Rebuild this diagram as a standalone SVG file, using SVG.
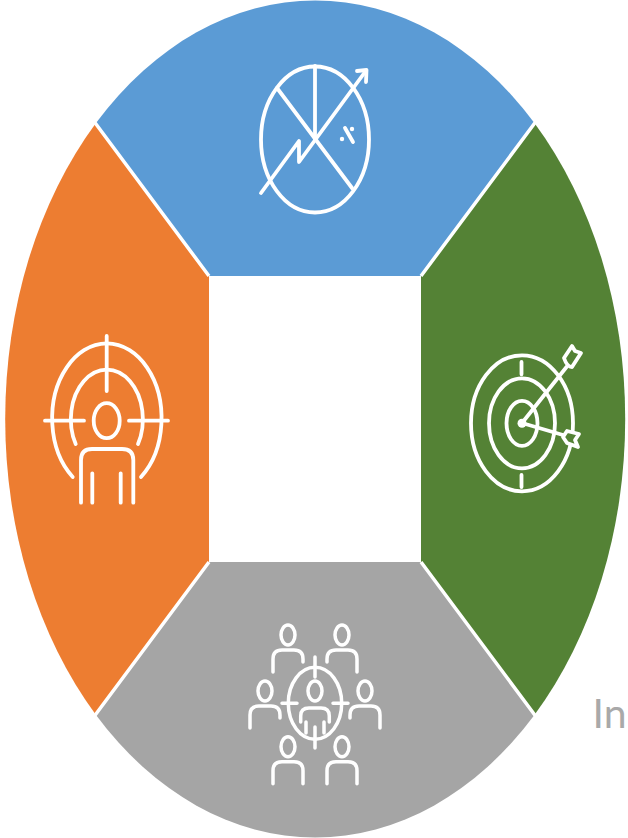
<svg xmlns="http://www.w3.org/2000/svg" width="628" height="838" viewBox="0 0 628 838">
<style>
.div{stroke:#fff;stroke-width:3.5;fill:none}
.ic{fill:none;stroke:#fff;stroke-width:3.8;stroke-linecap:round;stroke-linejoin:round}
.ic2{fill:none;stroke:#fff;stroke-width:3.5;stroke-linecap:round;stroke-linejoin:round}
</style>
<defs>
<clipPath id="oval"><ellipse cx="315.200" cy="419" rx="310" ry="418.500"/></clipPath>
<g id="person" class="ic2"><ellipse cx="0" cy="0" rx="7" ry="10"/><path d="M-15,37V24Q-15,15 -6,15H6Q15,15 15,24V37"/></g>
<g id="personL" class="ic2"><ellipse cx="0" cy="0" rx="7" ry="10"/><path d="M-15,37V24Q-15,15 -6,15H6Q15,15 15,24V27"/></g>
<g id="personR" class="ic2"><ellipse cx="0" cy="0" rx="7" ry="10"/><path d="M-15,27V24Q-15,15 -6,15H6Q15,15 15,24V37"/></g>
</defs>
<g id="node-blue">
<path clip-path="url(#oval)" fill="#5b9bd5" d="M80,103L209,276H421L550,103V-5H80Z"/>
<g class="ic">
<ellipse cx="315" cy="139.500" rx="54" ry="73"/>
<path d="M315,66V139"/>
<path d="M277,88L352,188"/>
<path d="M261,193L299,141L299,162L365,72"/>
<path d="M357,71L366.500,70L366,82"/>
<path d="M345,128L353,142"/>
</g>
<circle cx="352" cy="129" r="2.200" fill="#fff"/>
<circle cx="342" cy="139" r="2.200" fill="#fff"/>
</g>
<g id="node-orange">
<path clip-path="url(#oval)" fill="#ed7d31" d="M80,103L209,276V562L80,735H-5V103Z"/>
<g class="ic">
<path d="M106.700,336V391M45,420.700H84M129,420.700H168"/>
<path d="M72.700,477A54.700,75 0 1 1 141,477"/>
<path d="M75.700,444A36,49.500 0 1 1 138,444"/>
<ellipse cx="106.700" cy="420.700" rx="13" ry="17.500"/>
<path d="M81,502.700V460Q81,449 92,449H122Q133.300,449 133.300,460V502.700"/>
<path d="M92.300,473.300V502.700M120.700,473.300V502.700"/>
</g>
</g>
<g id="node-green">
<path clip-path="url(#oval)" fill="#548235" d="M550,103L421,276V562L550,735H635V103Z"/>
<g class="ic">
<ellipse cx="522" cy="423.300" rx="51" ry="68"/>
<ellipse cx="522" cy="423.300" rx="33" ry="45"/>
<ellipse cx="522" cy="423.300" rx="15.500" ry="22.500"/>
<path d="M521.500,362V374.300M521.500,475V487"/>
<path d="M522,423L566.700,366.700M522,423L563,435"/>
<path fill="#548235" d="M564,358L572,346L575,351L581,353L572,367Q567,367 564,358Z"/>
<path fill="#548235" d="M563,437L567,431L579,434L575,440L578,447L567,443Z"/>
</g>
<circle cx="522" cy="423.300" r="4.500" fill="#fff"/>
</g>
<g id="node-gray">
<path clip-path="url(#oval)" fill="#a5a5a5" d="M209,562H421L550,735V845H80V735Z"/>
<use href="#personL" x="288" y="635"/>
<use href="#personR" x="342" y="635"/>
<use href="#personL" x="265" y="691"/>
<use href="#personR" x="365" y="691"/>
<use href="#person" x="288" y="746.700"/>
<use href="#person" x="342" y="746.700"/>
<g class="ic2">
<ellipse cx="315" cy="703.300" rx="26.700" ry="36"/>
<path d="M315,657V677M315,727V748M282,703.300H297M333,703.300H348"/>
<ellipse cx="315" cy="691" rx="7" ry="10"/>
<path d="M300.700,722V716Q300.700,708 309,708H321Q329.300,708 329.300,716V722"/>
<path d="M306,722V733M324,722V733"/>
</g>
</g>
<g id="connectors">
<path class="div" d="M209,276L90,116M421,276L540,116M209,562L90,722M421,562L540,722"/>
</g>
<text x="592.500" y="728" font-family="Lato, 'Open Sans', 'Liberation Sans', sans-serif" font-weight="400" font-size="41" fill="#a9a9a9">In</text>
</svg>
